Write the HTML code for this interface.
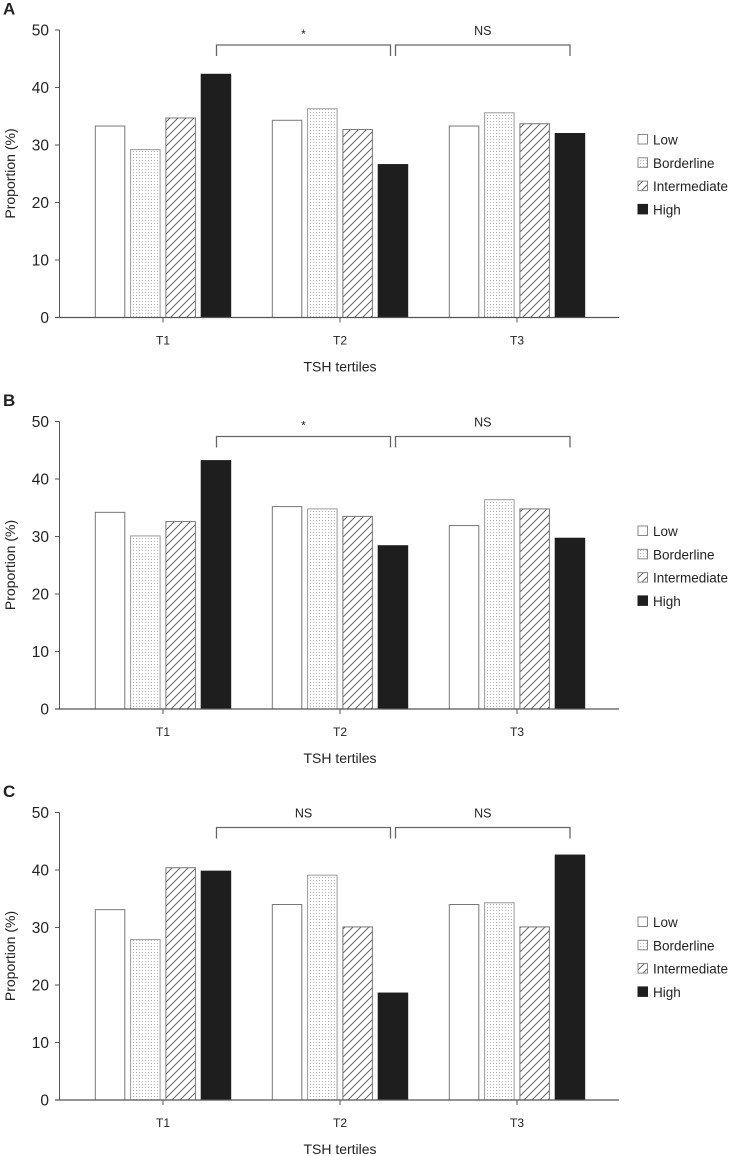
<!DOCTYPE html>
<html><head><meta charset="utf-8">
<style>
html,body{margin:0;padding:0;background:#fff;}
svg{display:block;font-family:"Liberation Sans",sans-serif;}
</style></head>
<body>
<svg id="chart" width="739" height="1156" viewBox="0 0 739 1156" xmlns="http://www.w3.org/2000/svg">
<defs>
<pattern id="dots" width="3" height="3" patternUnits="userSpaceOnUse"><rect width="3" height="3" fill="#fff"/><rect x="1" y="1" width="1" height="1" fill="#b8b8b8"/></pattern>
<pattern id="hatch" width="8" height="8" patternUnits="userSpaceOnUse"><rect width="8" height="8" fill="#fff"/><path d="M-2,10 L10,-2 M-2,2 L2,-2 M6,10 L10,6" stroke="#555" stroke-width="0.9"/></pattern>
</defs>
</svg>
<script>
const categories = ["T1", "T2", "T3"];
const seriesNames = ["Low", "Borderline", "Intermediate", "High"];
const panelLetters = ["A", "B", "C"];
const valuesA = [[33.3, 29.2, 34.7, 42.3], [34.3, 36.3, 32.7, 26.6], [33.3, 35.6, 33.7, 32.0]];
const valuesB = [[34.2, 30.1, 32.6, 43.2], [35.2, 34.8, 33.5, 28.4], [31.9, 36.4, 34.8, 29.7]];
const valuesC = [[33.1, 27.9, 40.4, 39.8], [34.0, 39.1, 30.1, 18.6], [34.0, 34.3, 30.1, 42.6]];
const sigLabelsA = ["*", "NS"];
const sigLabelsB = ["*", "NS"];
const sigLabelsC = ["NS", "NS"];
const yTicks = [0, 10, 20, 30, 40, 50];

const svg = document.getElementById('chart');
const NS = 'http://www.w3.org/2000/svg';
function mk(tag, attrs, parent, text){
  const e = document.createElementNS(NS, tag);
  for (const k in attrs) e.setAttribute(k, attrs[k]);
  if (text !== undefined) e.textContent = text;
  (parent || svg).appendChild(e);
  return e;
}
const fills = ["#fff", "url(#dots)", "url(#hatch)", "#1e1e1e"];
const strokes = ["#777", "#999", "#777", "#1e1e1e"];
const panels = [
  {vals: valuesA, sig: sigLabelsA, y0: 317.5},
  {vals: valuesB, sig: sigLabelsB, y0: 709},
  {vals: valuesC, sig: sigLabelsC, y0: 1100}
];
const pxPerUnit = 287.5 / 50;
const groupX = i => 163 + i * 177;
const barW = 29.5, barPitch = 35.3;

panels.forEach((p, pi) => {
  const g = mk('g', {});
  
  
  const y = v => p.y0 - v * pxPerUnit;
  const lt = mk('text', {x: 3, y: p.y0 - 303, 'font-size': 17, 'font-weight': 'bold', fill: '#222'}, g, panelLetters[pi]);
  
  
  // bars
  p.vals.forEach((grp, ci) => {
    grp.forEach((v, si) => {
      const x = groupX(ci) - 2 * barPitch + si * barPitch + (barPitch - barW) / 2;
      const r = mk('rect', {x: x, y: y(v), width: barW, height: p.y0 - y(v), fill: fills[si], stroke: strokes[si], 'stroke-width': 1}, g);
      
      
    });
  });
  // axes
  const ya = mk('line', {x1: 59.5, y1: y(50), x2: 59.5, y2: p.y0, stroke: '#555', 'stroke-width': 1}, g);
  
  
  const xa = mk('line', {x1: 55, y1: p.y0, x2: 619, y2: p.y0, stroke: '#555', 'stroke-width': 1.2}, g);
  
  
  yTicks.forEach(t => {
    mk('line', {x1: 55, y1: y(t), x2: 59.5, y2: y(t), stroke: '#555'}, g);
    const tl = mk('text', {x: 49, y: y(t) + 5.5, 'font-size': 15.5, 'text-anchor': 'end', fill: '#222'}, g, String(t));
    
    
  });
  categories.forEach((c, ci) => {
    mk('line', {x1: groupX(ci), y1: p.y0, x2: groupX(ci), y2: p.y0 + 5, stroke: '#555'}, g);
    const cl = mk('text', {x: groupX(ci), y: p.y0 + 27, 'font-size': 12, 'text-anchor': 'middle', fill: '#222'}, g, c);
    
    
  });
  const xt = mk('text', {x: 340, y: p.y0 + 54, 'font-size': 14, 'text-anchor': 'middle', fill: '#222'}, g, 'TSH tertiles');
  
  
  const cy = p.y0 - 144;
  const yt = mk('text', {x: 0, y: 0, 'font-size': 14, 'text-anchor': 'middle', fill: '#222', transform: 'translate(15,' + cy + ') rotate(-90)'}, g, 'Proportion (%)');
  
  
  // brackets
  const br = [[216.5, 390.5], [395.5, 570]];
  br.forEach((b, bi) => {
    const by = p.y0 - 272.5;
    const pth = mk('path', {d: 'M' + b[0] + ',' + (by + 11) + ' V' + by + ' H' + b[1] + ' V' + (by + 11), fill: 'none', stroke: '#666', 'stroke-width': 1.3}, g);
    
    
    const lab = p.sig[bi];
    const st = mk('text', {x: (b[0] + b[1]) / 2, y: lab === '*' ? by - 7 : by - 10, 'font-size': lab === '*' ? 12 : 12.5, 'text-anchor': 'middle', fill: '#222'}, g, lab);
    
    
  });
  // legend
  seriesNames.forEach((s, si) => {
    const ly = p.y0 - 178 + si * 23.3;
    const sw = mk('rect', {x: 638, y: ly - 5, width: 9.5, height: 9.5, fill: fills[si], stroke: strokes[si] === '#1e1e1e' ? '#1e1e1e' : '#888', 'stroke-width': 1}, g);
    
    
    const lt2 = mk('text', {x: 653, y: ly + 5, 'font-size': 13.5, fill: '#222'}, g, s);
    
    
  });
});
</script>
</body></html>
